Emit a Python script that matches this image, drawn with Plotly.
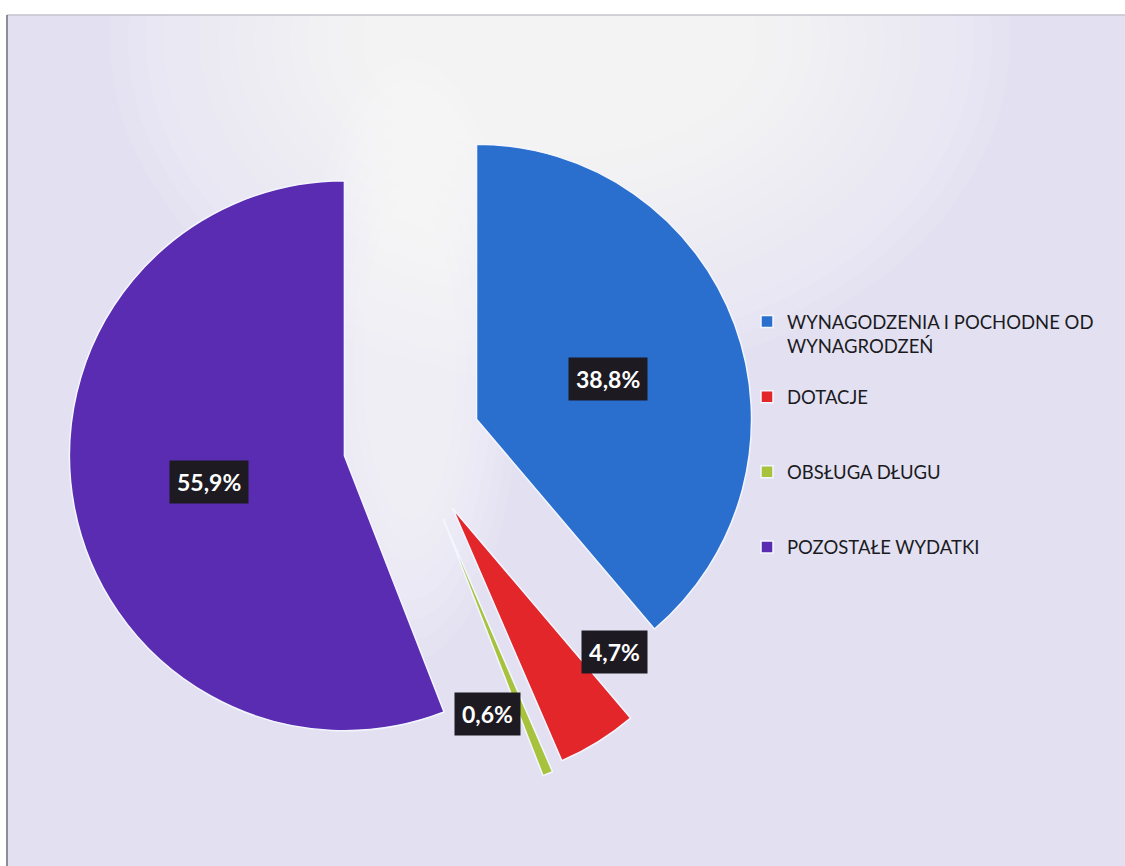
import math
import plotly.graph_objects as go

# ---- data ----
categories = ["WYNAGODZENIA I POCHODNE OD<br>WYNAGRODZEŃ", "DOTACJE", "OBSŁUGA DŁUGU", "POZOSTAŁE WYDATKI"]
values = [38.8, 4.7, 0.6, 55.9]
value_labels = ["38,8%", "4,7%", "0,6%", "55,9%"]

# ---- styling ----
colors = ["#2b6fce", "#e2262a", "#a7c23c", "#5a2cb2"]
pulls = [0.25, 0.28, 0.30, 0.25]
legend_pad = ["<br> ", "<br> <br> ", "<br> <br> ", ""]
label_radius = [0.75, 1.03, 1.015, 0.76]      # label distance from pie centre, in radii
label_shift = [(2, 7), (53, -32), (-31, 13), (2, 0)]  # px nudges (x right, y down)

W, H = 1125, 866
CX, CY = 412, 443          # pie centre in px
R = 275                    # pie radius in px
max_pull = max(pulls)
half = R * (1 + max_pull)

domain_x = [(CX - half) / W, (CX + half) / W]
domain_y = [1 - (CY + half) / H, 1 - (CY - half) / H]

fig = go.Figure()
fig.add_trace(go.Pie(
    labels=[c + p for c, p in zip(categories, legend_pad)],
    values=values,
    sort=False,
    direction="clockwise",
    rotation=0,
    pull=pulls,
    textinfo="none",
    hoverinfo="label+percent",
    marker=dict(colors=colors, line=dict(color="#f4f6ff", width=1.5)),
    domain=dict(x=domain_x, y=domain_y),
))

# data labels placed from slice angles
total = sum(values)
cum = 0.0
annotations = []
for v, txt, f, (sx, sy) in zip(values, value_labels, label_radius, label_shift):
    mid = math.radians((cum + v / 2) / total * 360)
    cum += v
    px = CX + f * R * math.sin(mid) + sx
    py = CY - f * R * math.cos(mid) + sy
    annotations.append(dict(
        x=px / W, y=1 - py / H, xref="paper", yref="paper",
        xanchor="center", yanchor="middle",
        text="<b>%s</b>" % txt, showarrow=False,
        font=dict(family="Lato, Open Sans, sans-serif", size=23, color="white"),
        bgcolor="#1d1a22", borderpad=7,
    ))

shapes = [
    # lavender card
    dict(type="rect", xref="paper", yref="paper", x0=7 / W, x1=1, y0=0, y1=1 - 15 / H,
         fillcolor="#e3e1f1", line=dict(width=0), layer="below"),
]
# soft white glow at top centre (stack of faint ellipses)
n = 16
for k in range(n):
    sx = 450 - k * 18
    sy = 340 - k * 16
    cxg, cyg = 560, 40
    shapes.append(dict(type="circle", xref="paper", yref="paper",
                       x0=(cxg - sx) / W, x1=(cxg + sx) / W,
                       y0=1 - (cyg + sy) / H, y1=1 - (cyg - sy) / H,
                       fillcolor="white", opacity=0.075, line=dict(width=0), layer="below"))
# faint glow in the gap between slices
for k in range(8):
    sx = 110 - k * 9
    sy = 300 - k * 20
    cxg, cyg = 410, 360
    shapes.append(dict(type="circle", xref="paper", yref="paper",
                       x0=(cxg - sx) / W, x1=(cxg + sx) / W,
                       y0=1 - (cyg + sy) / H, y1=1 - (cyg - sy) / H,
                       fillcolor="white", opacity=0.09, line=dict(width=0), layer="below"))
shapes += [
    # scan borders
    dict(type="line", xref="paper", yref="paper", x0=7 / W, x1=1, y0=1 - 15 / H, y1=1 - 15 / H,
         line=dict(color="#c4c3cc", width=1.5), layer="below"),
    dict(type="line", xref="paper", yref="paper", x0=7 / W, x1=7 / W, y0=0, y1=1 - 15 / H,
         line=dict(color="#8e8d96", width=2), layer="below"),
]

fig.update_layout(
    width=W, height=H,
    margin=dict(l=0, r=0, t=0, b=0),
    paper_bgcolor="white",
    plot_bgcolor="white",
    showlegend=True,
    legend=dict(
        x=747 / W, y=1 - 303 / H, xanchor="left", yanchor="top",
        font=dict(family="Lato, Open Sans, sans-serif", size=18.5, color="#1b1b1f"),
        bgcolor="rgba(0,0,0,0)", valign="top", tracegroupgap=0,
    ),
    annotations=annotations,
    shapes=shapes,
)

fig.write_html("out.html", config={"displayModeBar": False},
               post_script="document.body.style.margin='0px';document.body.style.overflow='hidden';")
